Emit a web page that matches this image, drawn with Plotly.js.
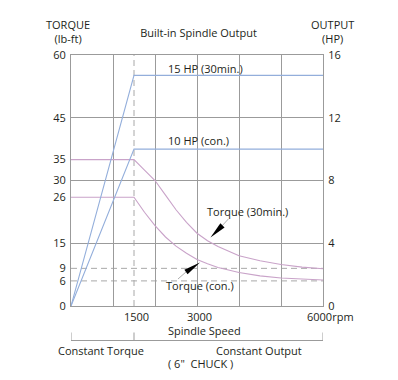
<!DOCTYPE html>
<html><head><meta charset="utf-8">
<script src="https://cdn.plot.ly/plotly-3.0.1.min.js"></script>
<style>html,body{margin:0;padding:0;background:#fff}</style>
</head><body><div id="chart" style="width:398px;height:380px"></div>
<script>
// Spindle speed (rpm) samples for the torque curves
const speedRpm = [0, 1500, 1750, 2000, 2250, 2500, 2750, 3000, 3250, 3500, 4000, 4500, 5000, 5500, 6000];
// Torque (lb-ft)
const torque30min = [35, 35, 32.5, 30.0, 26.5, 23.0, 20.0, 17.4, 15.6, 14.2, 12.0, 10.8, 9.9, 9.3, 8.9];
const torqueCon   = [26, 26, 22.4, 19.2, 16.5, 14.3, 12.6, 11.1, 10.1, 9.2, 8.0, 7.2, 6.7, 6.4, 6.2];
// Output (HP)
const outputSpeed = [0, 1500, 6000];
const output30min = [0, 14.7, 14.7];
const outputCon   = [0, 10, 10];
// Ticks
const torqueTicks = [0, 6, 9, 15, 26, 30, 35, 45, 60];
const outputTicks = [0, 4, 8, 12, 16];
const speedTicks = [1500, 3000, 6000];
const speedTickText = ['1500', '3000', '6000rpm'];
const dashedTorque = [9, 6];
const dashedSpeed = [1500];
const bracketSpeeds = [0, 1500, 6000];

const PINK = '#c9a3c9', BLUE = '#93aedb', GRID = '#9b9b9b', DASH = '#a8a8a8', TXT = '#231f20';
const FONT = {family: 'Open Sans, sans-serif', size: 11, color: TXT};

const L = 71, T = 55, W = 252, H = 251;
const px = x => (x - L) / W;
const py = y => (T + H - y) / H;

const traces = [
  {x: speedRpm, y: torque30min, yaxis: 'y', mode: 'lines', line: {color: PINK, width: 1.1}, hoverinfo: 'skip'},
  {x: speedRpm, y: torqueCon, yaxis: 'y', mode: 'lines', line: {color: PINK, width: 1.1}, hoverinfo: 'skip'},
  {x: outputSpeed, y: output30min, yaxis: 'y2', mode: 'lines', line: {color: BLUE, width: 1.1}, hoverinfo: 'skip'},
  {x: outputSpeed, y: outputCon, yaxis: 'y2', mode: 'lines', line: {color: BLUE, width: 1.1}, hoverinfo: 'skip'}
];

const shapes = [];
dashedTorque.forEach(v => shapes.push({type: 'line', xref: 'paper', yref: 'y', x0: 0, x1: 1, y0: v, y1: v, line: {color: DASH, width: 1, dash: '6px,4px'}, layer: 'below'}));
dashedSpeed.forEach(v => shapes.push({type: 'line', xref: 'x', yref: 'paper', x0: v, x1: v, y0: 0, y1: 1, line: {color: DASH, width: 1, dash: '6px,4px'}, layer: 'below'}));
// bracket under the axis
shapes.push({type: 'line', xref: 'x', yref: 'paper', x0: bracketSpeeds[0], x1: bracketSpeeds[2], y0: py(340.5), y1: py(340.5), line: {color: GRID, width: 1}});
bracketSpeeds.forEach(v => shapes.push({type: 'line', xref: 'x', yref: 'paper', x0: v, x1: v, y0: py(332.5), y1: py(340.5), line: {color: GRID, width: 1}}));
// arrow heads (pixel-sized, anchored at their tips)
function arrow(xa, ya, head, tail) {
  shapes.push({type: 'path', xref: 'x', yref: 'y', xsizemode: 'pixel', ysizemode: 'pixel', xanchor: xa, yanchor: ya, path: tail, line: {color: '#777', width: 0.6}});
  shapes.push({type: 'path', xref: 'x', yref: 'y', xsizemode: 'pixel', ysizemode: 'pixel', xanchor: xa, yanchor: ya, path: head, fillcolor: '#000', line: {width: 0}});
}
arrow(3321, 16.4, 'M0,0 L14.1,9.9 L9.9,14.1 Z', 'M12,12 L18,18.5');
arrow(3071, 10.4, 'M0,0 L-12.4,-11.8 L-15.6,-7.2 Z', 'M-14,-9.5 L-22,-16.5');

function ann(text, x, y, xanchor) {
  return {text: text, xref: 'paper', yref: 'paper', x: px(x), y: py(y), xanchor: xanchor || 'center', yanchor: 'middle', showarrow: false, font: FONT};
}
const annotations = [
  ann('TORQUE<br>(lb-ft)', 67.5, 31.5),
  ann('OUTPUT<br>(HP)', 332.5, 31.5),
  ann('15 HP (30min.)', 165.5, 68.5, 'left'),
  ann('10 HP (con.)', 165.5, 140.5, 'left'),
  ann('Torque (30min.)', 204.5, 211, 'left'),
  ann('Torque (con.)', 164, 285, 'left'),
  ann('Spindle Speed', 204.5, 330.5),
  ann('Constant Torque', 100.5, 350.5),
  ann('Constant Output', 258.5, 350.5),
  ann('( 6"  CHUCK )', 200, 363)
];
speedTicks.forEach((v, i) => {
  const last = i === speedTicks.length - 1;
  annotations.push({text: speedTickText[i], xref: 'x', yref: 'paper', x: v, y: py(316), xanchor: last ? 'left' : 'center', xshift: last ? -18 : 2, yanchor: 'middle', showarrow: false, font: FONT});
});

const layout = {
  width: 398, height: 380,
  margin: {l: L, r: 398 - L - W, t: T, b: 380 - T - H, pad: 0},
  paper_bgcolor: '#fff', plot_bgcolor: '#fff',
  showlegend: false, hovermode: false,
  font: FONT,
  title: {text: 'Built-in Spindle Output', font: FONT, x: 198.5 / 398, xanchor: 'center', y: 1 - 33 / 380, yanchor: 'middle'},
  xaxis: {range: [0, 6000], tickmode: 'linear', tick0: 0, dtick: 1000, showgrid: true, gridcolor: GRID, gridwidth: 1,
          showticklabels: false, ticks: '', zeroline: false, showline: true, mirror: true, linecolor: GRID, linewidth: 1, fixedrange: true},
  yaxis: {range: [0, 60], tickmode: 'array', tickvals: torqueTicks, showgrid: false, zeroline: false,
          showline: true, linecolor: GRID, linewidth: 1, ticks: '', tickfont: FONT, ticklabelstandoff: 2, fixedrange: true},
  yaxis2: {range: [0, 16], overlaying: 'y', side: 'right', tickmode: 'array', tickvals: outputTicks, showgrid: true, gridcolor: GRID, gridwidth: 1,
           zeroline: false, showline: true, linecolor: GRID, linewidth: 1, ticks: '', tickfont: FONT, ticklabelstandoff: 2, fixedrange: true},
  shapes: shapes,
  annotations: annotations
};

Plotly.newPlot('chart', traces, layout, {staticPlot: true, displayModeBar: false});
</script>
</body></html>
